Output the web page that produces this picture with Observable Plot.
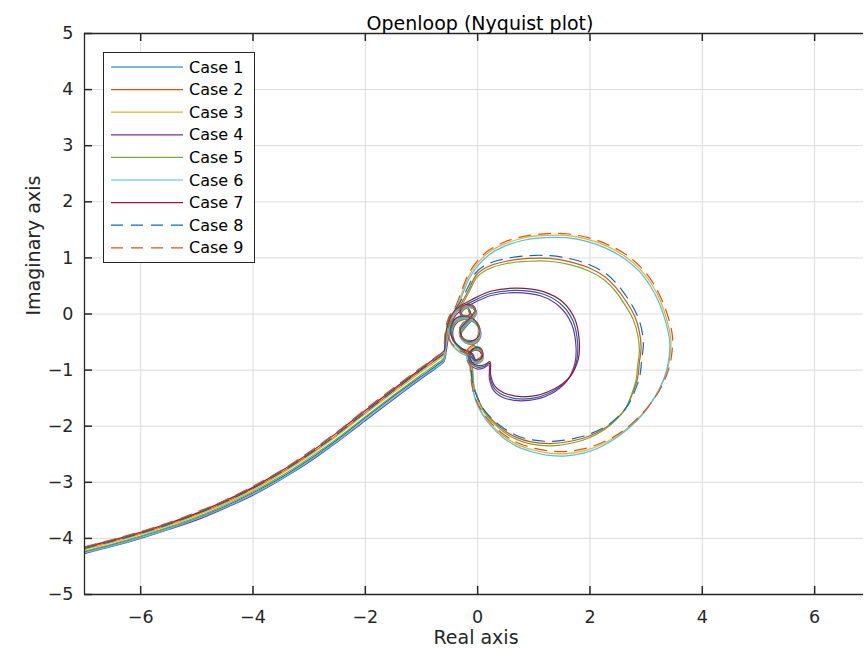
<!DOCTYPE html>
<html><head><meta charset="utf-8">
<script src="https://cdn.jsdelivr.net/npm/d3@7"></script>
<script src="https://cdn.jsdelivr.net/npm/@observablehq/plot@0.6"></script>
<style>
body{margin:0;background:#fff;}
#wrap{position:relative;width:864px;height:657px;overflow:hidden;font-family:"DejaVu Sans",sans-serif;}
#legend{position:absolute;left:103px;top:52px;}
</style></head><body><div id="wrap"></div>
<script>
// ---------- data ----------
const caseNames = ["Case 1","Case 2","Case 3","Case 4","Case 5","Case 6","Case 7","Case 8","Case 9"];
const caseColors = ["#0072BD","#D95319","#EDB120","#7E2F8E","#77AC30","#4DBEEE","#A2142F","#0072BD","#D95319"];
const caseDash = [null,null,null,null,null,null,null,"12,8","12,8"];
const xTicks = [-6,-4,-2,0,2,4,6];
const yTicks = [-5,-4,-3,-2,-1,0,1,2,3,4,5];
const titleText = "Openloop (Nyquist plot)";
const xLabel = "Real axis";
const yLabel = "Imaginary axis";

// low-frequency tail: shared real parts, imaginary parts per case
const tailX = [-7,-6.5,-6,-5.5,-5,-4.5,-4,-3.5,-3,-2.5,-2,-1.5,-1,-0.75,-0.6];
const tail1 = [-4.24,-4.11,-3.97,-3.81,-3.64,-3.43,-3.19,-2.92,-2.60,-2.24,-1.85,-1.47,-1.11,-0.93,-0.81];
const tail2 = [-4.18,-4.05,-3.91,-3.75,-3.57,-3.36,-3.11,-2.83,-2.51,-2.15,-1.76,-1.37,-1.00,-0.82,-0.70];
const tail3 = [-4.20,-4.07,-3.93,-3.77,-3.59,-3.38,-3.14,-2.85,-2.53,-2.17,-1.78,-1.40,-1.03,-0.85,-0.73];
const tail4 = [-4.27,-4.14,-4.00,-3.84,-3.67,-3.46,-3.23,-2.95,-2.64,-2.28,-1.90,-1.52,-1.15,-0.97,-0.85];
const tail5 = [-4.23,-4.10,-3.96,-3.80,-3.62,-3.41,-3.17,-2.89,-2.57,-2.22,-1.83,-1.45,-1.08,-0.90,-0.78];
const tail6 = [-4.26,-4.13,-3.99,-3.83,-3.65,-3.45,-3.21,-2.94,-2.62,-2.27,-1.88,-1.50,-1.13,-0.96,-0.84];
const tail7 = [-4.16,-4.03,-3.89,-3.73,-3.55,-3.33,-3.09,-2.80,-2.48,-2.11,-1.72,-1.34,-0.97,-0.78,-0.66];
const tail8 = [-4.18,-4.05,-3.91,-3.75,-3.56,-3.35,-3.11,-2.82,-2.50,-2.14,-1.75,-1.37,-0.99,-0.81,-0.69];
const tail9 = [-4.15,-4.02,-3.88,-3.72,-3.53,-3.32,-3.07,-2.79,-2.46,-2.10,-1.70,-1.32,-0.95,-0.77,-0.65];

// rest of each curve: [real, imag]
const path1 = [[-0.57,-0.6],[-0.54,-0.38],[-0.49,-0.16],[-0.4,0.02],[-0.28,0.12],
 [-0.1,0.22],[0.25,0.37],[0.68,0.42],[1.15,0.36],[1.49,0.17],[1.7,-0.13],[1.78,-0.52],[1.76,-0.85],[1.62,-1.15],[1.33,-1.38],[0.92,-1.51],[0.52,-1.47],[0.3,-1.33],[0.22,-1.12],[0.21,-0.88],
 [0.12,-0.93],[0.0,-0.95],[-0.11,-0.88],[-0.15,-0.75],[-0.09,-0.64],[0.02,-0.62],[0.08,-0.7],[0.05,-0.81],[-0.05,-0.83],[-0.1,-0.73],[-0.28,-0.62],[-0.43,-0.46],[-0.46,-0.26],[-0.37,-0.11],[-0.21,-0.06],[-0.05,-0.13],[0.04,-0.27],[0.02,-0.43],[-0.1,-0.51],[-0.25,-0.46],[-0.3,-0.31],[-0.21,-0.19],[-0.09,-0.06],[-0.03,0.05],[-0.09,0.13],[-0.2,0.14],[-0.29,0.07],[-0.28,-0.03],[-0.19,-0.07],[-0.12,-0.01],[-0.15,0.06]];
const path7 = [[-0.58,-0.5],[-0.56,-0.3],[-0.5,-0.1],[-0.41,0.06],[-0.28,0.16],
 [-0.1,0.26],[0.25,0.41],[0.69,0.46],[1.17,0.40],[1.52,0.21],[1.73,-0.09],[1.81,-0.48],[1.79,-0.81],[1.65,-1.11],[1.35,-1.34],[0.93,-1.47],[0.53,-1.43],[0.31,-1.29],[0.23,-1.08],[0.22,-0.85],
 [0.13,-0.9],[0.01,-0.92],[-0.1,-0.86],[-0.14,-0.73],[-0.08,-0.62],[0.03,-0.6],[0.09,-0.68],[0.06,-0.79],[-0.04,-0.81],[-0.09,-0.71],[-0.3,-0.6],[-0.45,-0.44],[-0.48,-0.24],[-0.39,-0.08],[-0.22,-0.03],[-0.06,-0.1],[0.03,-0.24],[0.01,-0.4],[-0.11,-0.48],[-0.26,-0.43],[-0.31,-0.28],[-0.22,-0.16],[-0.1,-0.03],[-0.04,0.08],[-0.1,0.16],[-0.21,0.17],[-0.3,0.1],[-0.29,0.0],[-0.2,-0.04],[-0.13,0.02],[-0.16,0.09]];
const path4 = [[-0.56,-0.66],[-0.52,-0.42],[-0.47,-0.2],[-0.39,-0.02],[-0.27,0.08],
 [-0.1,0.18],[0.24,0.33],[0.67,0.38],[1.13,0.32],[1.46,0.13],[1.67,-0.17],[1.75,-0.56],[1.73,-0.89],[1.59,-1.19],[1.31,-1.42],[0.91,-1.54],[0.51,-1.51],[0.29,-1.37],[0.21,-1.16],[0.2,-0.91],
 [0.11,-0.96],[-0.01,-0.98],[-0.12,-0.91],[-0.16,-0.78],[-0.1,-0.67],[0.01,-0.65],[0.07,-0.73],[0.04,-0.84],[-0.06,-0.86],[-0.11,-0.76],[-0.27,-0.65],[-0.41,-0.49],[-0.44,-0.29],[-0.35,-0.14],[-0.2,-0.09],[-0.04,-0.16],[0.05,-0.3],[0.03,-0.46],[-0.09,-0.54],[-0.24,-0.49],[-0.29,-0.34],[-0.2,-0.22],[-0.08,-0.09],[-0.02,0.02],[-0.08,0.1],[-0.19,0.11],[-0.28,0.04],[-0.27,-0.06],[-0.18,-0.1],[-0.11,-0.04],[-0.14,0.03]];
const path2 = [[-0.58,-0.52],[-0.55,-0.3],[-0.49,-0.08],[-0.4,0.06],
 [-0.3,0.18],[-0.15,0.45],[-0.02,0.7],[0.2,0.85],[0.51,0.94],[0.9,0.99],[1.28,0.99],[1.65,0.93],[1.99,0.82],[2.27,0.66],[2.47,0.46],[2.66,0.2],[2.8,-0.05],[2.88,-0.32],[2.91,-0.6],[2.88,-0.86],[2.85,-1.13],[2.76,-1.41],[2.65,-1.66],[2.48,-1.86],[2.29,-2.02],[2.0,-2.17],[1.7,-2.26],[1.3,-2.31],[0.95,-2.28],[0.69,-2.2],[0.45,-2.06],[0.27,-1.9],[0.1,-1.7],[0.0,-1.49],[-0.07,-1.28],[-0.09,-1.1],[-0.1,-0.95],
 [-0.14,-0.84],[-0.16,-0.72],[-0.09,-0.62],[0.03,-0.62],[0.09,-0.71],[0.06,-0.82],[-0.04,-0.85],[-0.12,-0.76],[-0.29,-0.63],[-0.44,-0.46],[-0.47,-0.26],[-0.38,-0.11],[-0.22,-0.06],[-0.06,-0.13],[0.03,-0.27],[0.01,-0.43],[-0.11,-0.51],[-0.26,-0.46],[-0.31,-0.31],[-0.22,-0.19],[-0.1,-0.06],[-0.04,0.05],[-0.1,0.13],[-0.21,0.14],[-0.3,0.07],[-0.29,-0.03],[-0.2,-0.07],[-0.13,-0.01],[-0.16,0.06]];
const path8 = [[-0.59,-0.5],[-0.56,-0.28],[-0.5,-0.06],[-0.41,0.08],
 [-0.32,0.2],[-0.17,0.48],[-0.03,0.74],[0.2,0.9],[0.51,0.99],[0.9,1.04],[1.29,1.04],[1.67,0.98],[2.01,0.87],[2.3,0.71],[2.5,0.51],[2.69,0.25],[2.83,0.0],[2.92,-0.27],[2.95,-0.55],[2.92,-0.82],[2.89,-1.09],[2.8,-1.37],[2.68,-1.62],[2.51,-1.82],[2.32,-1.98],[2.02,-2.13],[1.71,-2.22],[1.3,-2.27],[0.95,-2.24],[0.68,-2.16],[0.44,-2.02],[0.25,-1.86],[0.08,-1.66],[-0.02,-1.45],[-0.09,-1.24],[-0.11,-1.07],[-0.12,-0.92],
 [-0.15,-0.82],[-0.17,-0.7],[-0.1,-0.6],[0.02,-0.6],[0.08,-0.69],[0.05,-0.8],[-0.05,-0.83],[-0.13,-0.74],[-0.3,-0.61],[-0.45,-0.44],[-0.48,-0.24],[-0.39,-0.09],[-0.23,-0.04],[-0.07,-0.11],[0.02,-0.25],[0.0,-0.41],[-0.12,-0.49],[-0.27,-0.44],[-0.32,-0.29],[-0.23,-0.17],[-0.11,-0.04],[-0.05,0.07],[-0.11,0.15],[-0.22,0.16],[-0.31,0.09],[-0.3,-0.01],[-0.21,-0.05],[-0.14,0.01],[-0.17,0.08]];
const path5 = [[-0.57,-0.58],[-0.54,-0.35],[-0.48,-0.12],[-0.39,0.03],
 [-0.29,0.15],[-0.14,0.42],[-0.01,0.66],[0.21,0.81],[0.52,0.9],[0.9,0.94],[1.28,0.94],[1.64,0.88],[1.97,0.77],[2.25,0.61],[2.45,0.41],[2.63,0.15],[2.77,-0.1],[2.85,-0.37],[2.88,-0.65],[2.85,-0.91],[2.82,-1.18],[2.73,-1.46],[2.62,-1.71],[2.45,-1.9],[2.26,-2.06],[1.98,-2.21],[1.69,-2.3],[1.3,-2.35],[0.96,-2.32],[0.7,-2.24],[0.46,-2.1],[0.28,-1.94],[0.11,-1.74],[0.01,-1.53],[-0.06,-1.32],[-0.08,-1.13],[-0.09,-0.98],
 [-0.13,-0.87],[-0.15,-0.75],[-0.08,-0.65],[0.04,-0.65],[0.1,-0.74],[0.07,-0.85],[-0.03,-0.88],[-0.11,-0.79],[-0.28,-0.66],[-0.43,-0.49],[-0.46,-0.29],[-0.37,-0.14],[-0.21,-0.09],[-0.05,-0.16],[0.04,-0.3],[0.02,-0.46],[-0.1,-0.54],[-0.25,-0.49],[-0.3,-0.34],[-0.21,-0.22],[-0.09,-0.09],[-0.03,0.02],[-0.09,0.1],[-0.2,0.11],[-0.29,0.04],[-0.28,-0.06],[-0.19,-0.1],[-0.12,-0.04],[-0.15,0.03]];
const path3 = [[-0.58,-0.55],[-0.55,-0.33],[-0.5,-0.12],[-0.43,0.02],
 [-0.37,0.13],[-0.26,0.43],[-0.15,0.69],[0.01,0.92],[0.2,1.1],[0.48,1.25],[0.8,1.35],[1.18,1.4],[1.58,1.4],[1.96,1.33],[2.3,1.21],[2.62,1.03],[2.89,0.8],[3.1,0.53],[3.26,0.22],[3.37,-0.11],[3.44,-0.44],[3.43,-0.71],[3.38,-0.98],[3.28,-1.25],[3.14,-1.5],[2.96,-1.75],[2.73,-1.98],[2.47,-2.18],[2.18,-2.34],[1.89,-2.44],[1.58,-2.49],[1.27,-2.48],[0.97,-2.42],[0.69,-2.32],[0.44,-2.16],[0.23,-1.96],[0.06,-1.73],[-0.05,-1.49],[-0.1,-1.26],[-0.12,-1.06],[-0.13,-0.93],
 [-0.17,-0.86],[-0.2,-0.73],[-0.12,-0.6],[0.01,-0.58],[0.08,-0.67],[0.06,-0.79],[-0.05,-0.83],[-0.14,-0.75],[-0.32,-0.66],[-0.48,-0.5],[-0.52,-0.3],[-0.44,-0.12],[-0.28,-0.04],[-0.1,-0.08],[0.02,-0.2],[0.03,-0.38],[-0.08,-0.48],[-0.24,-0.47],[-0.33,-0.35],[-0.27,-0.2],[-0.14,-0.1],[-0.04,0.02],[-0.07,0.12],[-0.18,0.16],[-0.28,0.11],[-0.31,0.01],[-0.23,-0.05],[-0.14,-0.02],[-0.15,0.06]];
const path9 = [[-0.59,-0.48],[-0.57,-0.27],[-0.52,-0.07],[-0.44,0.06],
 [-0.38,0.16],[-0.27,0.46],[-0.16,0.72],[0.0,0.95],[0.19,1.13],[0.47,1.28],[0.8,1.38],[1.18,1.43],[1.58,1.43],[1.97,1.36],[2.31,1.24],[2.64,1.06],[2.91,0.83],[3.12,0.56],[3.28,0.25],[3.4,-0.08],[3.47,-0.41],[3.46,-0.68],[3.41,-0.95],[3.31,-1.22],[3.17,-1.47],[2.98,-1.72],[2.75,-1.95],[2.49,-2.15],[2.2,-2.3],[1.9,-2.4],[1.58,-2.45],[1.26,-2.44],[0.96,-2.38],[0.68,-2.28],[0.43,-2.12],[0.22,-1.92],[0.05,-1.69],[-0.06,-1.45],[-0.11,-1.22],[-0.13,-1.02],[-0.14,-0.9],
 [-0.18,-0.84],[-0.21,-0.71],[-0.13,-0.58],[0.0,-0.56],[0.07,-0.65],[0.05,-0.77],[-0.06,-0.81],[-0.15,-0.73],[-0.33,-0.64],[-0.49,-0.48],[-0.53,-0.28],[-0.45,-0.1],[-0.29,-0.02],[-0.11,-0.06],[0.01,-0.18],[0.02,-0.36],[-0.09,-0.46],[-0.25,-0.45],[-0.34,-0.33],[-0.28,-0.18],[-0.15,-0.08],[-0.05,0.04],[-0.08,0.14],[-0.19,0.18],[-0.29,0.13],[-0.32,0.03],[-0.24,-0.03],[-0.15,0.0],[-0.16,0.08]];
const path6 = [[-0.57,-0.64],[-0.53,-0.4],[-0.48,-0.17],[-0.42,-0.01],
 [-0.36,0.1],[-0.25,0.4],[-0.14,0.65],[0.02,0.88],[0.21,1.06],[0.48,1.21],[0.8,1.31],[1.18,1.36],[1.58,1.36],[1.96,1.29],[2.29,1.17],[2.61,0.99],[2.88,0.76],[3.08,0.49],[3.24,0.18],[3.35,-0.15],[3.42,-0.48],[3.41,-0.75],[3.36,-1.02],[3.26,-1.29],[3.12,-1.54],[2.94,-1.79],[2.71,-2.02],[2.45,-2.22],[2.17,-2.38],[1.88,-2.48],[1.58,-2.53],[1.27,-2.52],[0.98,-2.46],[0.7,-2.36],[0.45,-2.2],[0.24,-2.0],[0.07,-1.77],[-0.04,-1.53],[-0.09,-1.3],[-0.11,-1.1],[-0.12,-0.96],
 [-0.16,-0.89],[-0.19,-0.76],[-0.11,-0.63],[0.02,-0.61],[0.09,-0.7],[0.07,-0.82],[-0.04,-0.86],[-0.13,-0.78],[-0.31,-0.69],[-0.47,-0.53],[-0.51,-0.33],[-0.43,-0.15],[-0.27,-0.07],[-0.09,-0.11],[0.03,-0.23],[0.04,-0.41],[-0.07,-0.51],[-0.23,-0.5],[-0.32,-0.38],[-0.26,-0.23],[-0.13,-0.13],[-0.03,-0.01],[-0.06,0.09],[-0.17,0.13],[-0.27,0.08],[-0.3,-0.02],[-0.22,-0.08],[-0.13,-0.05],[-0.14,0.03]];

const tails = [tail1,tail2,tail3,tail4,tail5,tail6,tail7,tail8,tail9];
const paths = [path1,path2,path3,path4,path5,path6,path7,path8,path9];

// ---------- build rows ----------
const curves = caseNames.map((name, i) => {
  const rows = tailX.map((x, j) => ({x, y: tails[i][j]}));
  paths[i].forEach(([x, y]) => rows.push({x, y}));
  return rows;
});

const ink = "#262626";
const lineMarks = curves.map((rows, i) => Plot.line(rows, {
  x: "x", y: "y", stroke: caseColors[i], strokeWidth: 1.2,
  strokeDasharray: caseDash[i] ?? undefined, curve: "catmull-rom", clip: true
}));

const fmt = d3.format("d");
const plot = Plot.plot({
  width: 864, height: 657,
  marginLeft: 84, marginRight: 1, marginTop: 33, marginBottom: 63,
  x: {domain: [-7, 6.87]},
  y: {domain: [-5, 5]},
  style: {fontFamily: "DejaVu Sans, sans-serif", background: "white", color: ink},
  marks: [
    Plot.gridX(xTicks, {stroke: "#dcdcdc", strokeOpacity: 1}),
    Plot.gridY(yTicks, {stroke: "#dcdcdc", strokeOpacity: 1}),
    ...lineMarks,
    Plot.ruleX([-7], {stroke: ink, strokeWidth: 1.3}),
    Plot.ruleY([-5, 5], {stroke: ink, strokeWidth: 1.3}),
    Plot.tickX(xTicks, {x: d => d, insetTop: 553, stroke: ink, strokeWidth: 1.5}),
    Plot.tickX(xTicks, {x: d => d, insetBottom: 553, stroke: ink, strokeWidth: 1.5}),
    Plot.tickY(yTicks, {y: d => d, insetRight: 771, stroke: ink, strokeWidth: 1.5}),
    Plot.axisX(xTicks, {tickSize: 0, tickPadding: 16, fontSize: 17.5, label: null, tickFormat: fmt}),
    Plot.axisY(yTicks, {tickSize: 0, tickPadding: 11, fontSize: 17.5, label: null, tickFormat: fmt}),
    Plot.text([titleText], {frameAnchor: "top", dx: 6, dy: -17, fontSize: 19, fill: "#000"}),
    Plot.text([xLabel], {frameAnchor: "bottom", dx: 2, dy: 49, fontSize: 19, fill: ink}),
    Plot.text([yLabel], {frameAnchor: "left", rotate: -90, dx: -50.5, dy: 1.5, fontSize: 19, fill: ink})
  ]
});
document.getElementById("wrap").appendChild(plot);

// ---------- legend ----------
const lw = 151, lh = 210;
const leg = d3.create("svg").attr("id", "legend").attr("width", lw + 1).attr("height", lh + 1);
leg.append("rect").attr("x", 0.5).attr("y", 0.5).attr("width", lw).attr("height", lh)
  .attr("fill", "white").attr("stroke", ink).attr("stroke-width", 1);
caseNames.forEach((name, i) => {
  const yy = 15 + i * 22.6;
  leg.append("line").attr("x1", 8).attr("x2", 80).attr("y1", yy).attr("y2", yy)
    .attr("stroke", caseColors[i]).attr("stroke-width", 1.2)
    .attr("stroke-dasharray", caseDash[i]);
  leg.append("text").attr("x", 86).attr("y", yy).attr("dy", "0.35em")
    .attr("font-family", "DejaVu Sans, sans-serif").attr("font-size", 16).attr("fill", "#000")
    .text(name);
});
document.getElementById("wrap").appendChild(leg.node());
</script></body></html>
